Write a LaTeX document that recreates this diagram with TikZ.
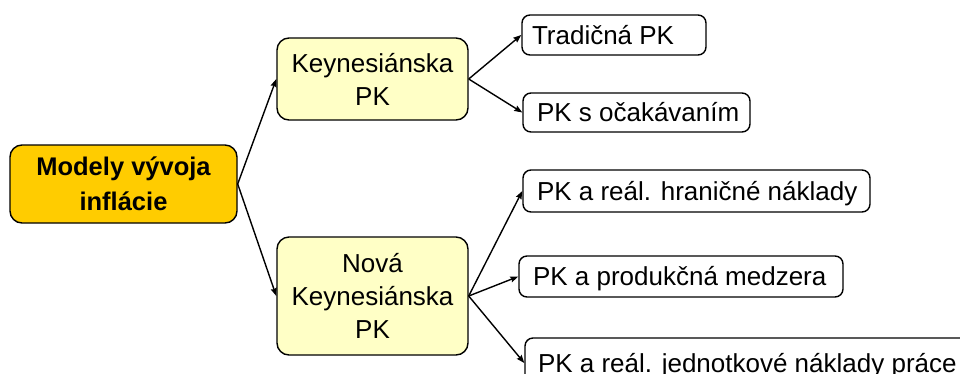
\documentclass[tikz,border=0pt]{standalone}
\usepackage{fontspec}
\setmainfont{Liberation Sans}
\usetikzlibrary{arrows.meta}
\definecolor{gold}{HTML}{FFCC00}
\definecolor{cream}{HTML}{FFFFC6}

\begin{document}
\begin{tikzpicture}[x=1pt,y=-1pt,
  box/.style={draw=black, line width=1.4pt, rounded corners=8pt, inner sep=0pt},
  rootbox/.style={box, fill=gold, rounded corners=12pt, align=center,
    font=\fontsize{25.5}{35}\selectfont\bfseries},
  midbox/.style={box, fill=cream, rounded corners=12pt, align=center,
    font=\fontsize{26}{33}\selectfont},
  leafbox/.style={box, fill=white, text height=18.6pt, text depth=0pt,
    font=\fontsize{26}{33}\selectfont},
  arr/.style={line width=1.4pt, -{Stealth[length=8pt,width=6pt,inset=1pt]}}
]
\useasboundingbox (0,0) rectangle (960,373);
\clip (0,0) rectangle (960,373);

% root
\node[rootbox, minimum width=227pt, minimum height=78pt] (main) at (123.5,184)
  {Modely vývoja\\inflácie};

% two families of Phillips curves
\node[midbox, minimum width=191pt, minimum height=82pt] (keyn) at (372.5,79)
  {Keynesiánska\\PK};
\node[midbox, minimum width=191pt, minimum height=118pt] (nova) at (372.5,296)
  {Nová\\Keynesiánska\\PK};

% leaves
\node[leafbox, minimum height=40pt] (trad) at (614,35)
  {\makebox[184pt][l]{\hspace{10pt}Tradičná PK}};
\node[leafbox, minimum height=39pt] (ocak) at (636.5,112.5)
  {\makebox[227pt][l]{\hspace{14pt}PK s očakávaním}};
\node[leafbox, minimum height=42pt] (hran) at (696.5,191)
  {\makebox[347pt][l]{\hspace{14pt}PK a reál. hraničné náklady}};
\node[leafbox, minimum height=41pt] (prod) at (681,276.5)
  {\makebox[324pt][l]{\hspace{14pt}PK a produkčná medzera}};
\node[leafbox, minimum height=50pt] (jedn) at (750,363)
  {\makebox[450pt][l]{\hspace{13pt}PK a reál. jednotkové náklady práce}};

% connectors
\draw[arr] (main.east) -- (keyn.west);
\draw[arr] (main.east) -- (nova.west);
\draw[arr] (keyn.east) -- (trad.west);
\draw[arr] (keyn.east) -- (ocak.west);
\draw[arr] (nova.east) -- (hran.west);
\draw[arr] (nova.east) -- (prod.west);
\draw[arr] (nova.east) -- (jedn.west);
\end{tikzpicture}
\end{document}
